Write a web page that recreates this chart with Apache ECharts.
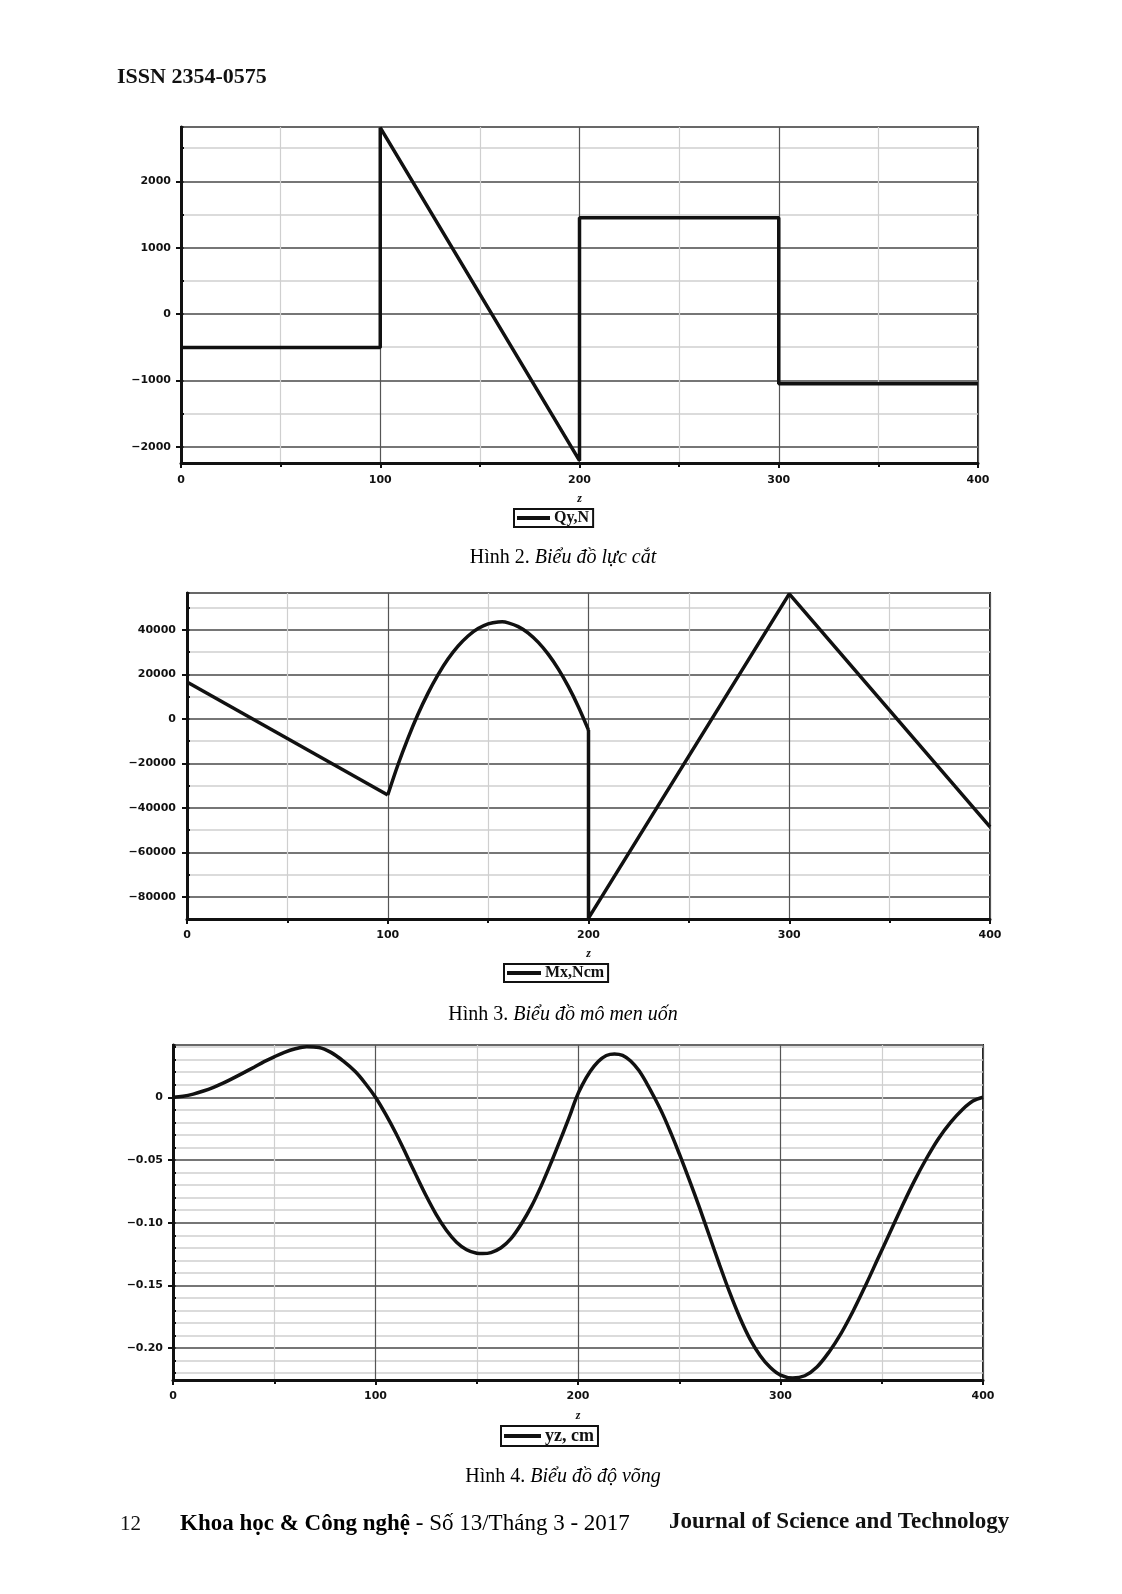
<!DOCTYPE html>
<html>
<head>
<meta charset="utf-8">
<script src="https://cdn.jsdelivr.net/npm/echarts@6/dist/echarts.min.js"></script>
<style>
html,body{margin:0;padding:0;background:#fff;}
#c{width:1122px;height:1594px;}
</style>
</head>
<body>
<div id="c"></div>
<script>
// ---------- DATA ----------
// Hình 2: shear force Qy (N)
const qyZ   = [0, 100, 100, 200, 200, 300, 300, 400];
const qyVal = [-505, -505, 2810, -2210, 1452, 1452, -1050, -1050];

// Hình 3: bending moment Mx (Ncm)
const mxZ1 = [0, 100];
const mxV1 = [16600, -34200];
const mxZ2 = [100, 105, 110, 115, 120, 125, 130, 135, 140, 145, 150, 155, 157, 160, 165, 170, 175, 180, 185, 190, 195, 200];
const mxV2 = [-34200, -20800, -8800, 2000, 11500, 19800, 26900, 32700, 37300, 40600, 42700, 43600, 43650, 43200, 41500, 38600, 34400, 29000, 22400, 14500, 5400, -5000];
const mxZ3 = [200, 200, 300, 400];
const mxV3 = [-5000, -89500, 56200, -48500];

// Hình 4: deflection yz (cm)
const yzZ = [0, 5, 10, 15, 20, 25, 30, 35, 40, 45, 50, 55, 60, 66, 72, 78, 84, 90, 95, 100,
             105, 110, 115, 120, 125, 130, 135, 140, 145, 150, 153, 157, 162, 167, 172, 177, 182, 187, 192, 196, 199,
             202, 206, 210, 214, 218, 222, 226, 230, 234, 238, 242, 246, 250, 255, 260, 265, 270, 275, 280, 285, 290, 295, 300, 306,
             312, 318, 324, 330, 336, 342, 348, 354, 360, 366, 372, 378, 384, 390, 395, 400];
const yzV = [0, 0.0008, 0.0025, 0.005, 0.008, 0.0115, 0.0155, 0.0197, 0.024, 0.0284, 0.0323, 0.0358, 0.0385, 0.0403, 0.0397, 0.0358, 0.029, 0.0205, 0.011, 0,
             -0.0135, -0.0285, -0.045, -0.062, -0.0785, -0.0935, -0.106, -0.1155, -0.1215, -0.1243, -0.1246, -0.1238, -0.12, -0.1125, -0.101, -0.087, -0.07, -0.051, -0.031, -0.0145, -0.001,
             0.0095, 0.0205, 0.0285, 0.0333, 0.0346, 0.0335, 0.029, 0.0215, 0.011, -0.001, -0.014, -0.029, -0.045, -0.066, -0.088, -0.111, -0.134, -0.156, -0.176, -0.193, -0.206, -0.2155, -0.2215, -0.2238,
             -0.222, -0.215, -0.203, -0.188, -0.17, -0.15, -0.129, -0.108, -0.087, -0.067, -0.049, -0.033, -0.02, -0.0095, -0.003, 0];

const xTicksMax = 400;

// ---------- HELPERS ----------
const zip = (a, b) => a.map((v, i) => [v, b[i]]);
const MAJOR = '#555';
const MINOR = '#cfcfcf';
const LBL = {fontFamily: 'DejaVu Sans', fontWeight: 'bold', fontSize: 11, color: '#111'};
const minus = s => String(s).replace('-', '\u2212');

const grids = [
  {left: 181, top: 127, width: 797, height: 336},
  {left: 187, top: 593, width: 803, height: 326},
  {left: 173, top: 1045, width: 810, height: 335}
];

function xAxis(gi, labelMargin, nameGap) {
  return {
    type: 'value', gridIndex: gi, min: 0, max: xTicksMax, interval: 100,
    name: 'z', nameLocation: 'middle', nameGap: nameGap,
    nameTextStyle: {fontFamily: 'Liberation Serif', fontStyle: 'italic', fontWeight: 'bold', fontSize: 12, color: '#111'},
    axisLine: {show: true, onZero: false, lineStyle: {color: '#111', width: 3}},
    axisTick: {show: true, length: 5, lineStyle: {color: '#111', width: 2}},
    minorTick: {show: true, splitNumber: 2, length: 4, lineStyle: {color: '#111', width: 2}},
    axisLabel: Object.assign({margin: labelMargin}, LBL),
    splitLine: {show: true, lineStyle: {color: MAJOR, width: 1.2}},
    minorSplitLine: {show: true, lineStyle: {color: MINOR, width: 1.2}},
    z: 2
  };
}
function yMajor(gi, min, max, splitNumber, fmt, margin) {
  return {
    type: 'value', gridIndex: gi, min: min, max: max, splitNumber: splitNumber,
    axisLine: {show: true, onZero: false, lineStyle: {color: '#111', width: 3}},
    axisTick: {show: true, length: 5, lineStyle: {color: '#111', width: 2}},
    axisLabel: Object.assign({margin: margin, showMinLabel: false, showMaxLabel: false, formatter: fmt}, LBL),
    splitLine: {show: true, lineStyle: {color: MAJOR, width: 1.5}},
    z: 2
  };
}
function yMinor(gi, min, max, splitNumber) {
  return {
    type: 'value', gridIndex: gi, min: min, max: max, splitNumber: splitNumber,
    axisLine: {show: false},
    axisTick: {show: true, length: 3, lineStyle: {color: '#111', width: 2}},
    axisLabel: {show: false},
    splitLine: {show: true, lineStyle: {color: MINOR, width: 1.5}},
    z: 1
  };
}
const lineStyle = {color: '#111', width: 3.5};
function line(name, xi, yi, data, smooth) {
  return {
    name: name, type: 'line', xAxisIndex: xi, yAxisIndex: yi, data: data,
    showSymbol: false, symbol: 'none', smooth: smooth || false,
    lineStyle: lineStyle, itemStyle: {color: '#111'}, z: 5, animation: false
  };
}
function legend(name, left, top, fontSize, iconW) {
  return {
    data: [name], left: left, top: top, orient: 'horizontal',
    icon: 'rect', itemWidth: iconW, itemHeight: 4, itemGap: 4,
    padding: [1, 4, 1, 3], borderColor: '#111', borderWidth: 2,
    selectedMode: false,
    textStyle: {fontFamily: 'Liberation Serif', fontWeight: 'bold', fontSize: fontSize, color: '#111', padding: [0, 0, 0, -1]}
  };
}

const fmtInt = v => v === 0 ? '0' : minus(v);
const fmt2 = v => v === 0 ? '0' : minus(v.toFixed(2));

const serif = 'Liberation Serif';
const capRich = {a: {fontFamily: serif, fontSize: 20, color: '#222'}, b: {fontFamily: serif, fontStyle: 'italic', fontSize: 20, color: '#222'}};

const option = {
  backgroundColor: '#fff',
  animation: false,
  grid: grids.map(g => Object.assign({show: true, borderColor: '#222', borderWidth: 2, backgroundColor: 'transparent'}, g)),
  xAxis: [xAxis(0, 12, 30), xAxis(1, 11, 29), xAxis(2, 11, 30)],
  yAxis: [
    yMajor(0, -2245, 2820, 5, fmtInt, 10), yMinor(0, -2245, 2820, 10),
    yMajor(1, -89900, 56600, 7, fmtInt, 11), yMinor(1, -89900, 56600, 15),
    yMajor(2, -0.2254, 0.0417, 5, fmt2, 10), yMinor(2, -0.2254, 0.0417, 27)
  ],
  legend: [legend('Qy,N', 514, 509, 16, 33), legend('Mx,Ncm', 504, 964, 16, 34), legend('yz, cm', 501, 1426, 18, 37)],
  series: [
    line('Qy,N', 0, 0, zip(qyZ, qyVal)),
    line('Mx,Ncm', 1, 2, zip(mxZ1, mxV1)),
    line('Mx,Ncm', 1, 2, zip(mxZ2, mxV2), 0.3),
    line('Mx,Ncm', 1, 2, zip(mxZ3, mxV3)),
    line('yz, cm', 2, 4, zip(yzZ, yzV), 0.35)
  ],
  graphic: [
    {type: 'text', x: 117, y: 77, style: {text: 'ISSN 2354-0575', font: 'bold 22px "Liberation Serif"', fill: '#111', verticalAlign: 'middle'}},
    {type: 'text', x: 563, y: 558, style: {text: '{a|Hình 2. }{b|Biểu đồ lực cắt}', align: 'center', verticalAlign: 'middle', rich: capRich}},
    {type: 'text', x: 563, y: 1015, style: {text: '{a|Hình 3. }{b|Biểu đồ mô men uốn}', align: 'center', verticalAlign: 'middle', rich: capRich}},
    {type: 'text', x: 563, y: 1477, style: {text: '{a|Hình 4. }{b|Biểu đồ độ võng}', align: 'center', verticalAlign: 'middle', rich: capRich}},
    {type: 'text', x: 120, y: 1524, style: {text: '12', font: '21px "Liberation Serif"', fill: '#111', verticalAlign: 'middle'}},
    {type: 'text', x: 180, y: 1524, style: {text: '{a|Khoa học & Công nghệ}{b| - Số 13/Tháng 3 - 2017}', verticalAlign: 'middle',
      rich: {a: {fontFamily: serif, fontWeight: 'bold', fontSize: 23, color: '#111'}, b: {fontFamily: serif, fontSize: 23, color: '#111'}}}},
    {type: 'text', x: 669, y: 1522, style: {text: 'Journal of Science and Technology', font: 'bold 23px "Liberation Serif"', fill: '#111', verticalAlign: 'middle'}}
  ]
};

const chart = echarts.init(document.getElementById('c'), null, {renderer: 'canvas'});
chart.setOption(option);
</script>
</body>
</html>
